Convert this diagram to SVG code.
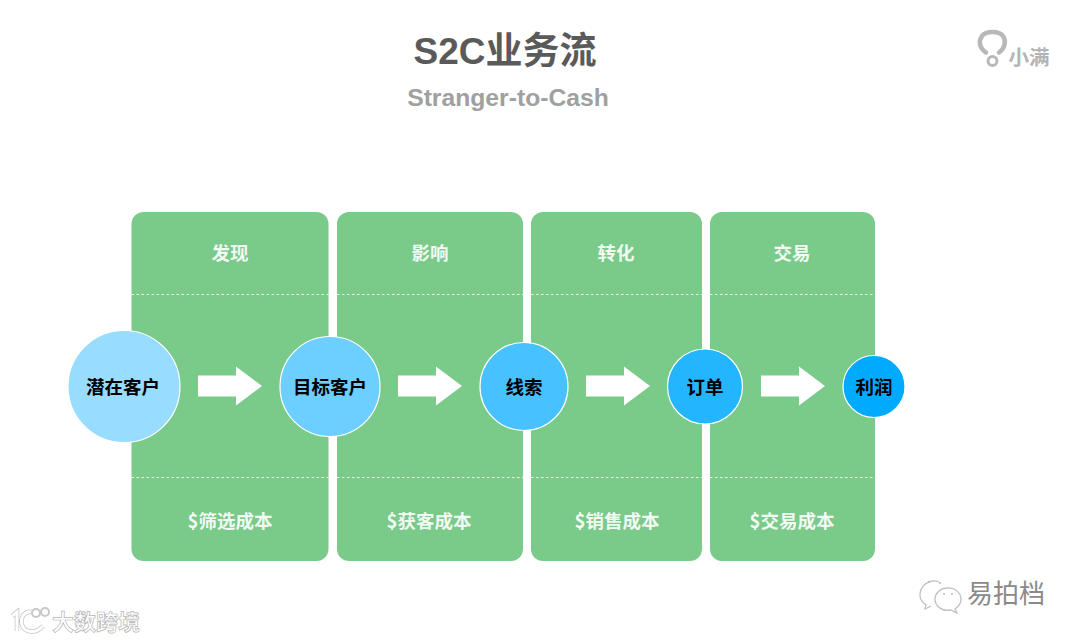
<svg xmlns="http://www.w3.org/2000/svg" width="1080" height="641" viewBox="0 0 1080 641">
<defs>
<style>
text{font-family:"Noto Sans CJK SC","Liberation Sans",sans-serif;text-anchor:middle}
.panel{fill:#7aca8a}
.dash{stroke:#fff;stroke-width:1;stroke-dasharray:2.500 2.500;fill:none;opacity:.85}
.ph{fill:#fff;font-size:18.500px;font-weight:700;fill-opacity:.92}
.circ{stroke:#fff;stroke-width:1.200}
.cl{fill:#000;font-size:18.500px;font-weight:700}
.arrow{fill:#fff}
.wm{fill:#fff;stroke:#b5b5b5;stroke-width:.7;font-weight:700}
.eye{fill:#b8b8b8}
</style>
<path id="arr" class="arrow" d="M0 -10.500H38V-19.500L64 0L38 19.500V10.500H0Z"/>
</defs>
<rect width="1080" height="641" fill="#fff"/>
<text x="505" y="64" font-size="37" font-weight="700" fill="#5a5a5a" style="font-family:'Liberation Sans','Noto Sans CJK SC',sans-serif">S2C业务流</text>
<text x="508" y="106" font-size="24.700" font-weight="700" fill="#a0a0a0" style="font-family:'Liberation Sans',sans-serif">Stranger-to-Cash</text>
<g id="logo">
<path d="M986 52.500C979 48 978.500 41 982 36C986 30.500 999 30.500 1003 36C1006.500 41 1005 48 999 52.500" fill="none" stroke="#b8b8b8" stroke-width="4.500" stroke-linecap="round"/>
<circle cx="992.500" cy="61" r="4.500" fill="none" stroke="#b8b8b8" stroke-width="3"/>
<text x="1029" y="65" font-size="20.500" font-weight="700" fill="#b4b4b4">小满</text>
</g>
<g id="panel-1"><rect class="panel" x="131.500" y="212" width="197" height="349" rx="12"/><line class="dash" x1="131.500" y1="294.500" x2="328.500" y2="294.500"/><line class="dash" x1="131.500" y1="477.500" x2="328.500" y2="477.500"/><text class="ph" x="230" y="260">发现</text><text class="ph" x="230" y="528">$筛选成本</text></g>
<g id="panel-2"><rect class="panel" x="337" y="212" width="186" height="349" rx="12"/><line class="dash" x1="337" y1="294.500" x2="523" y2="294.500"/><line class="dash" x1="337" y1="477.500" x2="523" y2="477.500"/><text class="ph" x="430" y="260">影响</text><text class="ph" x="429" y="528">$获客成本</text></g>
<g id="panel-3"><rect class="panel" x="531" y="212" width="171" height="349" rx="12"/><line class="dash" x1="531" y1="294.500" x2="702" y2="294.500"/><line class="dash" x1="531" y1="477.500" x2="702" y2="477.500"/><text class="ph" x="616" y="260">转化</text><text class="ph" x="617" y="528">$销售成本</text></g>
<g id="panel-4"><rect class="panel" x="710" y="212" width="165" height="349" rx="12"/><line class="dash" x1="710" y1="294.500" x2="875" y2="294.500"/><line class="dash" x1="710" y1="477.500" x2="875" y2="477.500"/><text class="ph" x="792" y="260">交易</text><text class="ph" x="792" y="528">$交易成本</text></g>
<g id="connectors">
<use href="#arr" x="198" y="386"/>
<use href="#arr" x="398" y="386"/>
<use href="#arr" x="586" y="386"/>
<use href="#arr" x="761" y="386"/>
</g>
<g id="node-1"><circle class="circ" cx="124" cy="386.500" r="56" fill="#98dcff"/><text class="cl" x="123" y="393.500">潜在客户</text></g>
<g id="node-2"><circle class="circ" cx="330" cy="386.500" r="50" fill="#6dcfff"/><text class="cl" x="330" y="393.500">目标客户</text></g>
<g id="node-3"><circle class="circ" cx="524" cy="386.500" r="44" fill="#47c1ff"/><text class="cl" x="524" y="393.500">线索</text></g>
<g id="node-4"><circle class="circ" cx="705" cy="386.500" r="37.500" fill="#24b5ff"/><text class="cl" x="705" y="393.500">订单</text></g>
<g id="node-5"><circle class="circ" cx="874" cy="386.500" r="31" fill="#00aaff"/><text class="cl" x="874" y="393.500">利润</text></g>
<g id="watermark-left">
<path d="M12 616L17 612V631M33 612C24 610 20 618 22 625C25 633 36 634 43 626" fill="none" stroke="#c4c4c4" stroke-width="4.500"/>
<path d="M12 616L17 612V631M33 612C24 610 20 618 22 625C25 633 36 634 43 626" fill="none" stroke="#fff" stroke-width="3"/>
<circle cx="36" cy="613" r="4" fill="none" stroke="#c8c8c8" stroke-width="2"/>
<circle cx="45" cy="612" r="4" fill="none" stroke="#c8c8c8" stroke-width="2"/>
<text class="wm" x="96" y="630" font-size="22">大数跨境</text>
</g>
<g id="watermark-right">
<path d="M939 582C928 578 920 587 920 595C920 600 923 603 926 605L925 609L931 606" fill="#fff" stroke="#c0c0c0" stroke-width="1.300"/>
<path d="M947 588C955 587 961 593 961 599C961 604 958 607 955 609L957 613L951 610C942 612 935 606 935 599C935 593 941 588 947 588Z" fill="#fff" stroke="#c0c0c0" stroke-width="1.300"/>
<circle class="eye" cx="929" cy="582" r="1"/><circle class="eye" cx="940" cy="583" r="1"/><circle class="eye" cx="944" cy="594" r="1"/><circle class="eye" cx="952" cy="594" r="1"/>
<text x="1006" y="603" font-size="26" style="fill:#8a8a8a;font-weight:400">易拍档</text>
</g>
</svg>
